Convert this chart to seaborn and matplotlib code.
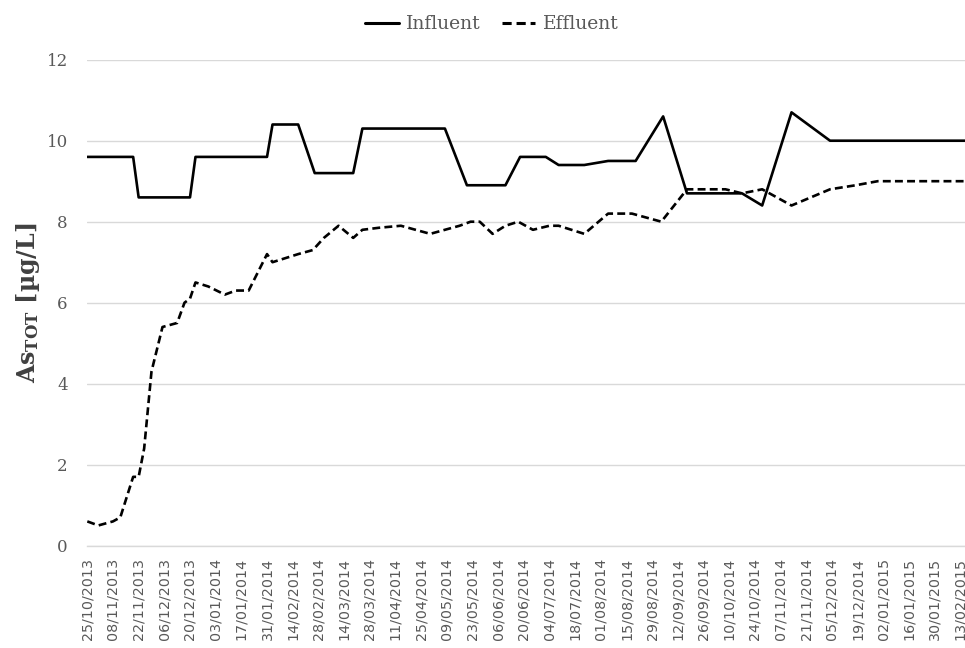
import numpy as np
import pandas as pd
import matplotlib
matplotlib.use("Agg")
import matplotlib.pyplot as plt
import matplotlib.dates as mdates
import seaborn as sns

# ---- data ----
start_date = "2013-10-25"

influent_days = [0, 25, 28, 56, 59, 98, 101, 115, 124, 145, 150, 195, 207, 228, 236,
                 250, 257, 271, 284, 299, 314, 327, 357, 368, 384, 405, 479]
influent_values = [9.6, 9.6, 8.6, 8.6, 9.6, 9.6, 10.4, 10.4, 9.2, 9.2, 10.3, 10.3, 8.9, 8.9, 9.6,
                   9.6, 9.4, 9.4, 9.5, 9.5, 10.6, 8.7, 8.7, 8.4, 10.7, 10.0, 10.0]

effluent_days = [0, 6, 14, 18, 25, 28, 31, 35, 41, 49, 53, 56, 59, 66, 75, 81, 88, 98, 101,
                 115, 123, 129, 137, 145, 150, 159, 171, 179, 187, 195, 203, 209, 214, 221,
                 228, 235, 243, 252, 257, 271, 284, 297, 313, 327, 348, 357, 368, 384, 405,
                 419, 431, 479]
effluent_values = [0.6, 0.5, 0.6, 0.7, 1.7, 1.7, 2.4, 4.3, 5.4, 5.5, 6.0, 6.1, 6.5, 6.4, 6.2, 6.3,
                   6.3, 7.2, 7.0, 7.2, 7.3, 7.6, 7.9, 7.6, 7.8, 7.85, 7.9, 7.8, 7.7, 7.8, 7.9,
                   8.0, 8.0, 7.7, 7.9, 8.0, 7.8, 7.9, 7.9, 7.7, 8.2, 8.2, 8.0, 8.8, 8.8, 8.7,
                   8.8, 8.4, 8.8, 8.9, 9.0, 9.0]

series_names = ["Influent", "Effluent"]
y_ticks = [0, 2, 4, 6, 8, 10, 12]
y_label = r"$\mathbf{As_{TOT}}$ [µg/L]"
tick_step_days = 14
n_ticks = 35

base = pd.Timestamp(start_date)
df = pd.concat([
    pd.DataFrame({"date": base + pd.to_timedelta(influent_days, unit="D"),
                  "value": influent_values, "series": series_names[0]}),
    pd.DataFrame({"date": base + pd.to_timedelta(effluent_days, unit="D"),
                  "value": effluent_values, "series": series_names[1]}),
], ignore_index=True)

# ---- styling ----
sns.set_style("white")
plt.rcParams["font.family"] = ["DejaVu Serif"]
plt.rcParams["mathtext.fontset"] = "dejavuserif"

grey_text = "#595959"
grid_col = "#d9d9d9"

fig = plt.figure(figsize=(9.65, 6.48), dpi=100)
ax = fig.add_axes([87.3 / 965, 1 - 545.7 / 648, 1 - 87.3 / 965, (545.7 - 59.7) / 648])

sns.lineplot(data=df, x="date", y="value", style="series",
             dashes={"Influent": "", "Effluent": (3, 1.6)},
             color="black", linewidth=1.9, ax=ax, sort=True)

# axes limits
ax.set_ylim(0, 12)
ax.set_xlim(base, base + pd.Timedelta(days=478.6))

# y axis
ax.set_yticks(y_ticks)
ax.set_yticklabels([str(v) for v in y_ticks], fontsize=12, color=grey_text,
                   family="DejaVu Serif")
ax.tick_params(axis="y", length=0, pad=14)
ax.yaxis.grid(True, color=grid_col, linewidth=1)
ax.xaxis.grid(False)
ax.set_axisbelow(True)

# x axis
xt = [base + pd.Timedelta(days=tick_step_days * i) for i in range(n_ticks)]
ax.set_xticks(xt)
ax.set_xticklabels([d.strftime("%d/%m/%Y") for d in xt], rotation=90,
                   fontsize=10.3, color=grey_text, family="DejaVu Sans")
ax.tick_params(axis="x", length=5, width=1, color=grid_col, pad=4, direction="out")

for s in ["top", "right", "left"]:
    ax.spines[s].set_visible(False)
ax.spines["bottom"].set_color(grid_col)
ax.spines["bottom"].set_linewidth(1)

ax.set_xlabel("")
ax.set_ylabel(y_label, fontsize=17, fontweight="bold", color="#404040",
              family="DejaVu Serif")
ax.yaxis.set_label_coords(-0.052, 0.5)

# legend
sns.move_legend(ax, "center", bbox_to_anchor=(0.461, 1.073), ncol=2, frameon=False,
                title=None, handlelength=1.8, handletextpad=0.4, columnspacing=1.1,
                fontsize=13.5)
for t in ax.get_legend().get_texts():
    t.set_color(grey_text)
for h in ax.get_legend().legend_handles:
    h.set_color("black")
    h.set_linewidth(2.2)

fig.savefig("out.png", dpi=100)
